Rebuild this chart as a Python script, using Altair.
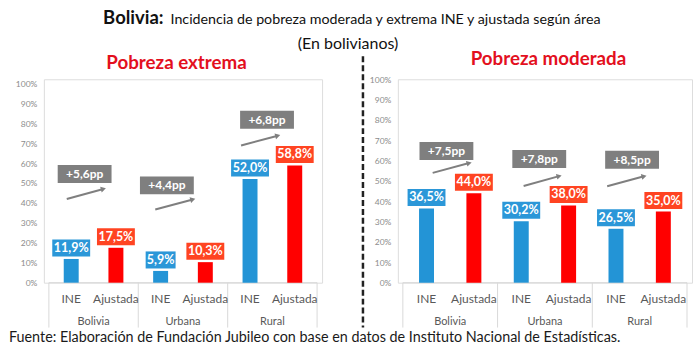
import altair as alt
import pandas as pd

# ---------------- data ----------------
categories = ["Bolivia", "Urbana", "Rural"]
series = ["INE", "Ajustada"]

extrema_ine = [11.9, 5.9, 52.0]
extrema_ajustada = [17.5, 10.3, 58.8]
moderada_ine = [36.5, 30.2, 26.5]
moderada_ajustada = [44.0, 38.0, 35.0]

extrema_diff = ["+5,6pp", "+4,4pp", "+6,8pp"]
moderada_diff = ["+7,5pp", "+7,8pp", "+8,5pp"]

# annotation anchors (x: fraction inside the category group, y: percent)
extrema_note_x = [0.40, 0.32, 0.44]
extrema_note_y = [54.5, 48.8, 81.7]
extrema_arrow_x0 = [0.20, 0.19, 0.15]
extrema_arrow_x1 = [0.61, 0.61, 0.56]
extrema_arrow_y0 = [42.0, 36.7, 68.8]
extrema_arrow_y1 = [47.0, 41.7, 73.7]

moderada_note_x = [0.46, 0.44, 0.42]
moderada_note_y = [64.7, 60.8, 60.4]
moderada_arrow_x0 = [0.315, 0.275, 0.157]
moderada_arrow_x1 = [0.70, 0.65, 0.546]
moderada_arrow_y0 = [54.0, 47.5, 47.4]
moderada_arrow_y1 = [58.8, 52.4, 52.3]

y_ticks = list(range(0, 101, 10))

# ---------------- styling ----------------
FONT = "Lato"
BLUE_BAR = "#2394d6"
RED_BAR = "#ff0000"
BLUE_BOX = "#2b97d8"
RED_BOX = "#ff4422"
GRAY = "#7f7f7f"
LINE = "#d9d9d9"
TEXT = "#595959"
TITLE_RED = "#e3101e"

H = 204
BAR_OFF = {"INE": 0.25, "Ajustada": 0.75}


def box_path(half_w, half_h):
    return f"M{-half_w},{-half_h}L{half_w},{-half_h}L{half_w},{half_h}L{-half_w},{half_h}Z"


def panel(ine, aju, diffs, nx, ny, ax0, ax1, ay0, ay1, ydom, title, title_x, title_y):
    rows = []
    for i, cat in enumerate(categories):
        for s, vals in (("INE", ine), ("Ajustada", aju)):
            v = vals[i]
            lab = f"{v:.1f}".replace(".", ",") + "%"
            rows.append({"cat": cat, "serie": s, "x": i + BAR_OFF[s], "value": v,
                         "label": lab, "bar": s, "box": s + " box",
                         "wclass": str(len(lab))})
    bars = pd.DataFrame(rows)

    notes = pd.DataFrame({
        "x": [i + f for i, f in enumerate(nx)], "y": ny, "text": diffs,
        "x0": [i + f for i, f in enumerate(ax0)], "x1": [i + f for i, f in enumerate(ax1)],
        "y0": ay0, "y1": ay1,
    })
    seps = pd.DataFrame({"x": [0, 1, 2, 3]})
    groups = pd.DataFrame({"x": [i + 0.5 for i in range(len(categories))], "cat": categories})
    base_line = pd.DataFrame({"x": [0], "x2": [3], "y": [0]})

    xs = alt.Scale(domain=[0, 3], nice=False)
    ys = alt.Scale(domain=ydom, nice=False)
    yax = alt.Axis(values=y_ticks, labelExpr="datum.value + '%'", labelFontSize=8.5,
                   labelColor="#8c8c8c", labelFont=FONT, domain=False, ticks=False,
                   grid=False, labelPadding=7, labelOverlap=False, title=None)
    X = alt.X("x:Q", scale=xs, axis=None)

    def Y(field):
        return alt.Y(field, scale=ys, axis=yax)

    color_scale = alt.Scale(domain=["INE", "Ajustada", "INE box", "Ajustada box"],
                            range=[BLUE_BAR, RED_BAR, BLUE_BOX, RED_BOX])

    axis_line = alt.Chart(base_line).mark_rule(color=LINE, strokeWidth=1).encode(
        x=X, x2="x2:Q", y=Y("y:Q"))
    sep = alt.Chart(seps).mark_rule(color=LINE, strokeWidth=1).encode(
        x=X, y=alt.value(H), y2=alt.value(H + 45))
    bar = alt.Chart(bars).mark_bar(size=15).encode(
        x=X, y=Y("value:Q"),
        color=alt.Color("bar:N", scale=color_scale, legend=None))
    boxes = alt.Chart(bars).mark_point(filled=True, opacity=1, size=1444, yOffset=-11,
                                       strokeWidth=0).encode(
        x=X, y=Y("value:Q"),
        color=alt.Color("box:N", scale=color_scale, legend=None),
        shape=alt.Shape("wclass:N", scale=alt.Scale(
            domain=["4", "5"], range=[box_path(0.79, 0.45), box_path(1, 0.45)]), legend=None))
    labels = alt.Chart(bars).mark_text(color="white", fontWeight="bold", fontSize=12.5,
                                       font=FONT, yOffset=-11, baseline="middle").encode(
        x=X, y=Y("value:Q"), text="label:N")
    note_box = alt.Chart(notes).mark_point(filled=True, opacity=1, size=2916, color=GRAY,
                                           strokeWidth=0,
                                           shape=box_path(1, 0.333)).encode(
        x=X, y=Y("y:Q"))
    note_text = alt.Chart(notes).mark_text(color="white", fontWeight="bold", fontSize=12,
                                           font=FONT, baseline="middle").encode(
        x=X, y=Y("y:Q"), text="text:N")
    arrow = alt.Chart(notes).mark_rule(color=GRAY, strokeWidth=2).encode(
        x=alt.X("x0:Q", scale=xs, axis=None), x2="x1:Q",
        y=Y("y0:Q"), y2="y1:Q")
    head = alt.Chart(notes).mark_point(shape="triangle-right", filled=True, opacity=1,
                                       size=35, angle=345, color=GRAY).encode(
        x=alt.X("x1:Q", scale=xs, axis=None), y=Y("y1:Q"))
    series_lab = alt.Chart(bars).mark_text(color=TEXT, fontSize=12, font=FONT,
                                           baseline="alphabetic").encode(
        x=X, y=alt.value(H + 20), text="serie:N")
    group_lab = alt.Chart(groups).mark_text(color=TEXT, fontSize=11, font=FONT,
                                            baseline="alphabetic").encode(
        x=X, y=alt.value(H + 42), text="cat:N")
    ptitle = alt.Chart(groups.head(1)).mark_text(color=TITLE_RED, fontSize=18.8, fontWeight="bold",
                                                 font=FONT, baseline="alphabetic").encode(
        x=alt.value(title_x), y=alt.value(title_y), text=alt.value(title))

    return [axis_line, sep, bar, boxes, labels, arrow, head, note_box, note_text,
            series_lab, group_lab, ptitle]


left_layers = panel(extrema_ine, extrema_ajustada, extrema_diff, extrema_note_x, extrema_note_y,
                    extrema_arrow_x0, extrema_arrow_x1, extrema_arrow_y0, extrema_arrow_y1,
                    [0, 102], "Pobreza extrema", 133, -10)
right_layers = panel(moderada_ine, moderada_ajustada, moderada_diff, moderada_note_x,
                     moderada_note_y, moderada_arrow_x0, moderada_arrow_x1, moderada_arrow_y0,
                     moderada_arrow_y1, [0, 100], "Pobreza moderada", 151, -14)

one = pd.DataFrame({"k": [0]})
title_bold = alt.Chart(one).mark_text(font=FONT, fontSize=18.5, fontWeight="bold", color="#111111",
                                      align="right", baseline="alphabetic").encode(
    x=alt.value(120), y=alt.value(-55), text=alt.value("Bolivia:"))
title_rest = alt.Chart(one).mark_text(font=FONT, fontSize=14.3, color="#111111",
                                      align="left", baseline="alphabetic").encode(
    x=alt.value(127), y=alt.value(-55),
    text=alt.value("Incidencia de pobreza moderada y extrema INE y ajustada según área"))
subtitle = alt.Chart(one).mark_text(font=FONT, fontSize=16, color="#111111",
                                    align="center", baseline="alphabetic").encode(
    x=alt.value(305), y=alt.value(-30), text=alt.value("(En bolivianos)"))
footnote = alt.Chart(one).mark_text(font=FONT, fontSize=14.4, color="#1a1a1a",
                                    align="left", baseline="alphabetic").encode(
    x=alt.value(-35), y=alt.value(263),
    text=alt.value("Fuente: Elaboración de Fundación Jubileo con base en datos de Instituto Nacional de Estadísticas."))

divider = alt.Chart(one).mark_rule(color="#222222", strokeWidth=2.5, strokeDash=[6, 3]).encode(
    x=alt.value(-35), y=alt.value(-23), y2=alt.value(249))

left = alt.layer(*left_layers, title_bold, title_rest, subtitle, footnote).properties(
    width=279, height=H)
right = alt.layer(divider, *right_layers).properties(width=295, height=H)

chart = alt.hconcat(left, right, spacing=76, bounds="flush").properties(
    padding={"left": 8, "right": 3, "top": 8, "bottom": 2}
).configure_view(stroke=None).configure(font=FONT)

chart.save("out.html", embed_options={"renderer": "svg", "actions": False})
